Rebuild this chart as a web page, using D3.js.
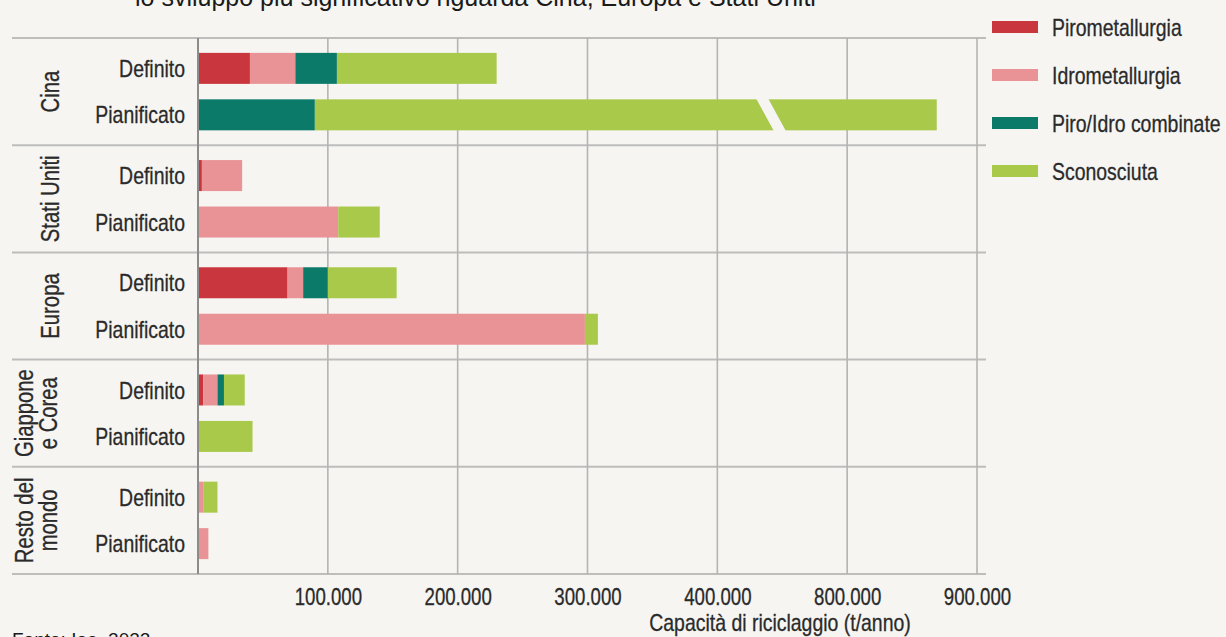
<!DOCTYPE html>
<html><head><meta charset="utf-8">
<script src="https://cdn.jsdelivr.net/npm/d3@7"></script>
<style>
html,body{margin:0;padding:0;background:#f6f5f2;}
svg{display:block;}
.cond{font-family:"Liberation Sans",Arial,sans-serif;fill:#2a2a2a;stroke:#2a2a2a;stroke-width:0.3px;}
.reg{font-family:"Liberation Sans",Arial,sans-serif;fill:#1a1a1a;}
</style></head>
<body>
<script>
// ---- data ----
const groups = ["Cina", "Stati Uniti", "Europa", "Giappone e Corea", "Resto del mondo"];
const groupLabelLines = [["Cina"], ["Stati Uniti"], ["Europa"], ["Giappone", "e Corea"], ["Resto del", "mondo"]];
const statuses = ["Definito", "Pianificato"];
const seriesNames = ["Pirometallurgia", "Idrometallurgia", "Piro/Idro combinate", "Sconosciuta"];
// rows: Cina-Def, Cina-Pian, USA-Def, USA-Pian, EU-Def, EU-Pian, GC-Def, GC-Pian, RdM-Def, RdM-Pian
const pirometallurgia   = [40000, 0, 3000, 0, 69000, 0, 4000, 0, 0, 0];
const idrometallurgia   = [35000, 0, 31000, 108000, 12000, 298000, 11000, 0, 4000, 8000];
const combinate         = [32000, 90000, 0, 0, 19000, 0, 5000, 0, 0, 0];
const sconosciuta       = [123000, 779000, 0, 32000, 53000, 10000, 16000, 42000, 11000, 0];
const tickValues = [100000, 200000, 300000, 400000, 800000, 900000];
const axisBreakValue = 550000;
const axisTitle = "Capacità di riciclaggio (t/anno)";
const caption = "lo sviluppo più significativo riguarda Cina, Europa e Stati Uniti";
const source = "Fonte: Iea, 2022";
const colors = ["#c9363d", "#e99396", "#0b7a68", "#a9c94a"];

// ---- build table ----
const rows = [];
groups.forEach((g, gi) => statuses.forEach((s, si) => {
  const i = gi * statuses.length + si;
  rows.push({group: g, status: s,
    [seriesNames[0]]: pirometallurgia[i], [seriesNames[1]]: idrometallurgia[i],
    [seriesNames[2]]: combinate[i], [seriesNames[3]]: sconosciuta[i]});
}));

const W = 1226, H = 637;
const svg = d3.select("body").append("svg").attr("width", W).attr("height", H);
svg.append("rect").attr("width", W).attr("height", H).attr("fill", "#f6f5f2");

// condensed look: squeeze glyphs horizontally
const SQ = 0.81;
function condense(sel, f = SQ) {
  sel.each(function () {
    const L = this.getComputedTextLength();
    this.setAttribute("textLength", (L * f).toFixed(1));
    this.setAttribute("lengthAdjust", "spacingAndGlyphs");
  });
}

const x0 = 198, x6 = 977;
const step = (x6 - x0) / 6;
const x = d3.scaleLinear()
  .domain([0, 100000, 200000, 300000, 400000, 800000, 900000])
  .range(d3.range(7).map(i => x0 + i * step));

const yTop = 38, yBottom = 574;
const yGroup = d3.scaleBand().domain(groups).range([yTop, yBottom]).padding(0);
const yInner = d3.scaleBand().domain(statuses).range([0, yGroup.bandwidth()])
  .paddingInner(0.333).paddingOuter(0.32);

const color = d3.scaleOrdinal().domain(seriesNames).range(colors);

// horizontal separators
const seps = groups.map(g => yGroup(g)).concat([yBottom]);
svg.append("g").selectAll("line").data(seps).join("line")
  .attr("x1", 12).attr("x2", 986).attr("y1", d => d).attr("y2", d => d)
  .attr("stroke", "#bdbdbb").attr("stroke-width", 2);

// gridlines
svg.append("g").selectAll("line").data(tickValues).join("line")
  .attr("x1", d => x(d)).attr("x2", d => x(d)).attr("y1", yTop).attr("y2", yBottom)
  .attr("stroke", "#b4b4b2").attr("stroke-width", 1.6);

// bars
const stack = d3.stack().keys(seriesNames);
const stacked = stack(rows);
const barG = svg.append("g");
stacked.forEach(layer => {
  barG.append("g").attr("fill", color(layer.key))
    .selectAll("rect").data(layer.filter(d => d[1] - d[0] > 0)).join("rect")
    .attr("x", d => x(d[0]))
    .attr("width", d => x(d[1]) - x(d[0]))
    .attr("y", d => yGroup(d.data.group) + yInner(d.data.status))
    .attr("height", yInner.bandwidth());
});

// axis break on China planned bar
const brRow = rows[1];
const by0 = yGroup(brRow.group) + yInner(brRow.status) - 1;
const by1 = by0 + yInner.bandwidth() + 2;
const bx = x(axisBreakValue);
svg.append("polygon")
  .attr("points", [[bx - 10, by0], [bx + 2, by0], [bx + 20, by1], [bx + 8, by1]].map(p => p.join(",")).join(" "))
  .attr("fill", "#f6f5f2");

// zero axis line
svg.append("line").attr("x1", x(0)).attr("x2", x(0)).attr("y1", yTop).attr("y2", yBottom)
  .attr("stroke", "#8c8c8c").attr("stroke-width", 2);

// tick labels
const fmt = d3.formatLocale({decimal: ",", thousands: ".", grouping: [3], currency: ["", "€"]}).format(",d");
const axis = d3.axisBottom(x).tickValues(tickValues).tickFormat(fmt).tickSize(0).tickPadding(0);
const axG = svg.append("g").attr("transform", `translate(0,${yBottom})`).call(axis);
axG.select(".domain").remove();
axG.attr("font-family", null).attr("font-size", null);
axG.selectAll("text").attr("class", "cond").attr("font-size", 23).attr("dy", null)
  .attr("y", 31).attr("fill", null).call(condense);

svg.append("text").attr("class", "cond").attr("x", 780).attr("y", 631)
  .attr("text-anchor", "middle").attr("font-size", 24).text(axisTitle).call(condense);

// status labels
const lab = svg.append("g");
rows.forEach(r => {
  lab.append("text").attr("class", "cond").attr("font-size", 24)
    .attr("x", 185).attr("y", yGroup(r.group) + yInner(r.status) + yInner.bandwidth() / 2)
    .attr("dy", "0.36em").attr("text-anchor", "end").text(r.status).call(condense);
});

// group labels (rotated)
groups.forEach((g, gi) => {
  const lines = groupLabelLines[gi];
  const cy = yGroup(g) + yGroup.bandwidth() / 2;
  const bases = lines.length === 1 ? [59] : [33, 57];
  lines.forEach((t, li) => {
    svg.append("text").attr("class", "cond").attr("font-size", 25)
      .attr("text-anchor", "middle")
      .attr("transform", `translate(${bases[li]},${cy}) rotate(-90)`).text(t).call(condense);
  });
});

// legend
const leg = svg.append("g");
seriesNames.forEach((s, i) => {
  const cy = 27 + i * 48;
  leg.append("rect").attr("x", 992).attr("y", cy - 6).attr("width", 46).attr("height", 12).attr("fill", color(s));
  leg.append("text").attr("class", "cond").attr("font-size", 24).attr("x", 1052).attr("y", cy)
    .attr("dy", "0.36em").text(s).call(condense);
});

// caption and source (cropped as in the original)
svg.append("text").attr("class", "reg").attr("font-size", 25).attr("x", 135).attr("y", 6).text(caption);
svg.append("text").attr("class", "reg").attr("font-size", 19).attr("x", 12).attr("y", 646).text(source);
</script>
</body></html>
